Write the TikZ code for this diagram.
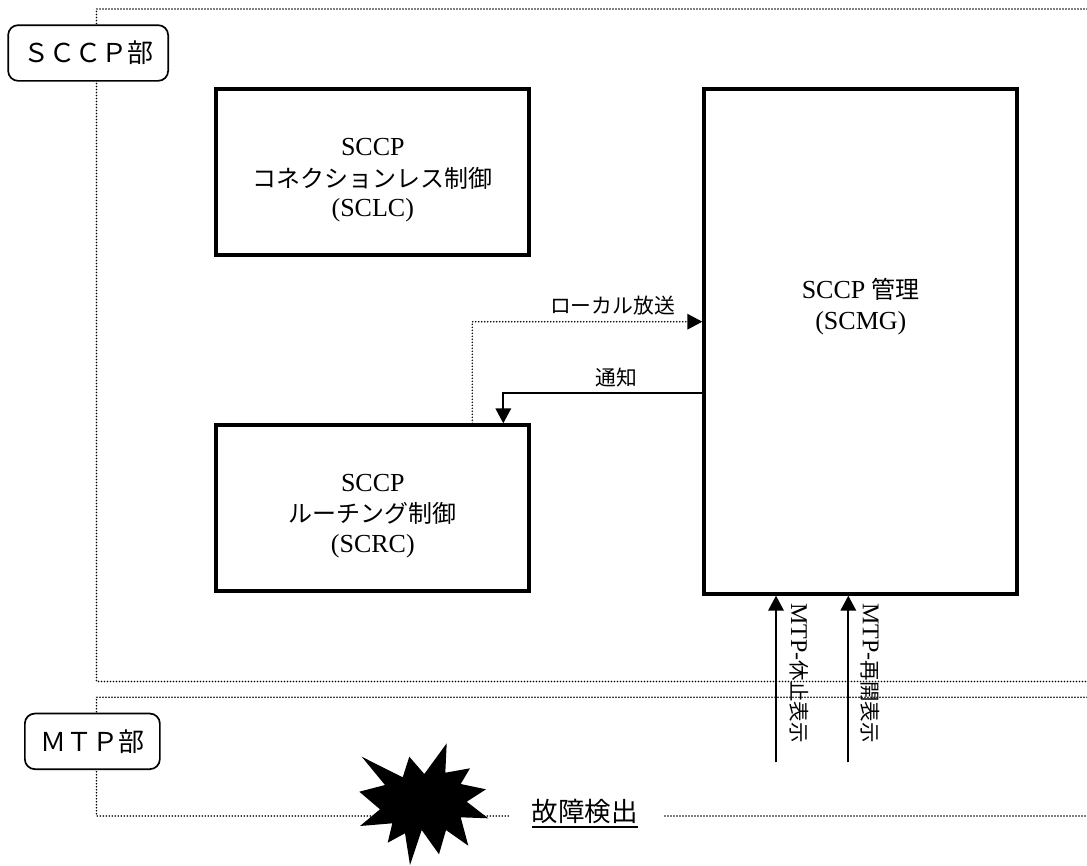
\documentclass[tikz,border=0pt]{standalone}
\usepackage{fontspec}
\usetikzlibrary{arrows.meta}
\setmainfont{Liberation Serif}
\newfontfamily\cjk{Noto Sans CJK JP}
\newcommand\jp[1]{{\cjk\fontsize{24}{30.5}\selectfont #1}}
\tikzset{
  x=1pt,y=-1pt,
  blockbox/.style={draw=black,line width=4pt,fill=white,inner sep=0pt,anchor=north west},
  blocktext/.style={inner sep=0pt,align=center,font=\fontsize{26}{30.5}\selectfont},
  tagbox/.style={draw=black,line width=1.7pt,fill=white,rounded corners=10pt,inner sep=0pt,anchor=north west,font=\cjk\fontsize{26}{30}\selectfont},
  dotline/.style={line width=1.7pt,line cap=round,dash pattern=on 0pt off 3pt},
  conn/.style={line width=2pt,-{Triangle[length=15pt,width=15.5pt]}},
  dotconn/.style={dotline,-{Triangle[length=15pt,width=15.5pt,sep=0pt]}},
  lab/.style={inner sep=0pt,font=\cjk\fontsize{20.8}{24}\selectfont},
  vlab/.style={inner sep=0pt,rotate=-90,anchor=west,font=\fontsize{24}{28}\selectfont},
}
\begin{document}
\begin{tikzpicture}
\useasboundingbox (0,0) rectangle (1087,865);
% dotted zone borders
\coordinate (st) at (1087,9);
\coordinate (sl) at (96.5,9);
\coordinate (sb) at (96.5,681.5);
\coordinate (se) at (1087,681.5);
\draw[dotline] (st) -- (sl) -- (sb) -- (se);
\coordinate (mt) at (1087,697.3);
\coordinate (ml) at (96.5,697.3);
\coordinate (mb) at (96.5,816);
\coordinate (mm) at (511,816);
\coordinate (mn) at (665,816);
\coordinate (me) at (1087,816);
\draw[dotline] (mt) -- (ml) -- (mb) -- (mm);
\draw[dotline] (mn) -- (me);
% tags
\node[tagbox,minimum width=160pt,minimum height=55.7pt] (sccp) at (7.3,24.3) {\raisebox{1pt}{ＳＣＣＰ部}};
\node[tagbox,minimum width=135pt,minimum height=55.6pt] (mtp) at (24,712.7) {\raisebox{1.5pt}{ＭＴＰ部}};
% blocks
\node[blockbox,minimum width=313pt,minimum height=166pt] (sclc) at (214.3,87.3) {};
\node[blocktext] (sclct) at ([yshift=-8pt]sclc.center) {SCCP\\\raisebox{-1.5pt}{\jp{コネクションレス制御}}\\(SCLC)};
\node[blockbox,minimum width=313pt,minimum height=165.7pt] (scrc) at (214.3,423.3) {};
\node[blocktext] (scrct) at ([yshift=-8pt]scrc.center) {SCCP\\\raisebox{-1pt}{\jp{ルーチング制御}}\\(SCRC)};
\node[blockbox,minimum width=313pt,minimum height=504.4pt] (scmg) at (702.3,87.3) {};
\node[blocktext] (scmgt) at ([yshift=35pt]scmg.center) {SCCP \jp{管理}\\(SCMG)};
% star
\fill[black] (446.7,743.3) -- (445.3,772.7) -- (470,768.3) -- (460.7,784) -- (486,789.3) -- (466.7,801.7) -- (488.3,818.3) -- (460.7,817.3) -- (468.3,845.7) -- (446,830) -- (439,854.3) -- (421.7,830) -- (410,865) -- (405,833.3) -- (387.7,842.7) -- (392.3,823.3) -- (360,826) -- (380,809.3) -- (359.3,791.7) -- (385,785) -- (361.7,756.7) -- (402.7,777.3) -- (409.3,756.7) -- (424.3,774) -- cycle;
\node[inner sep=0pt,font=\cjk\fontsize{26.5}{30}\selectfont] (fault) at (584.7,811.7) {故障検出};
\coordinate (ul) at (531.7,826.7);
\coordinate (ur) at (637.7,826.7);
\draw[line width=2pt] (ul) -- (ur);
% connectors
\coordinate (a) at (472.3,423.3);
\coordinate (a1) at (472.3,321.7);
\coordinate (a2) at (scmg.west |- a1);
\draw[dotconn] (a) -- (a1) -- (a2);
\coordinate (b1) at (scmg.west |- 0,393.3);
\coordinate (b2) at (503.3,393.3);
\coordinate (b3) at (b2 |- scrc.north);
\draw[conn] (b1) -- (b2) -- (b3);
\coordinate (c1) at (776,762.3);
\coordinate (c2) at (c1 |- scmg.south);
\coordinate (d1) at (848.3,762.3);
\coordinate (d2) at (d1 |- scmg.south);
\draw[conn] (c1) -- (c2);
\draw[conn] (d1) -- (d2);
% labels
\node[lab] (l1) at (612.5,306) {ローカル放送};
\node[lab] (l2) at (616,377.7) {通知};
\node[vlab] (v1) at (799,603) {MTP-{\cjk\fontsize{20.5}{24}\selectfont 休止表示}};
\node[vlab] (v2) at (870.7,603) {MTP-{\cjk\fontsize{20.5}{24}\selectfont 再開表示}};
\end{tikzpicture}
\end{document}
